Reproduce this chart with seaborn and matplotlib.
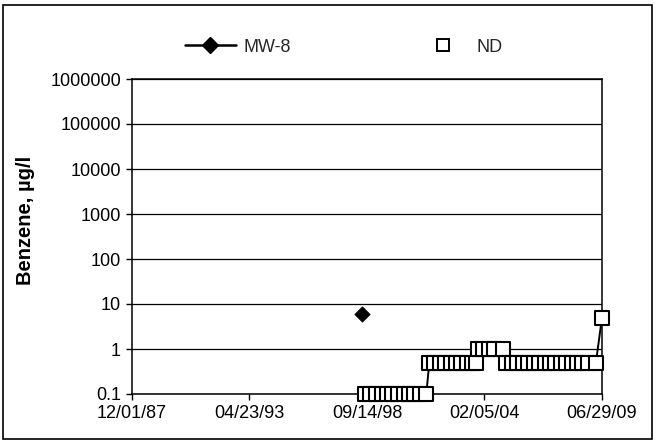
import matplotlib
matplotlib.use("Agg")
import matplotlib.pyplot as plt
import matplotlib.dates as mdates
from matplotlib.lines import Line2D
from matplotlib.patches import Rectangle
from matplotlib.ticker import FixedLocator, FixedFormatter
import pandas as pd
import seaborn as sns

# ---- data ----
detect_dates = ["1998-06-30"]
detect_values = [6.0]

nd_dates = [
    "1998-08-05", "1998-11-10", "1999-02-15", "1999-05-20", "1999-08-18", "1999-11-16",
    "2000-02-22", "2000-05-24", "2000-08-23", "2000-11-15", "2001-02-21", "2001-06-05",
    "2001-07-25", "2001-10-17", "2002-01-16", "2002-04-17", "2002-07-17", "2002-10-16",
    "2003-01-15", "2003-04-16", "2003-07-16", "2003-09-20",
    "2003-10-23", "2004-01-14", "2004-04-14", "2004-07-14", "2004-12-15",
    "2005-02-03", "2005-05-11", "2005-08-10", "2005-11-09", "2006-02-08", "2006-05-10",
    "2006-08-09", "2006-11-08", "2007-02-07", "2007-05-09", "2007-08-08", "2007-11-07",
    "2008-02-06", "2008-05-07", "2008-08-06", "2008-11-05", "2009-03-19",
    "2009-06-29",
]
nd_values = [
    0.1, 0.1, 0.1, 0.1, 0.1, 0.1, 0.1, 0.1, 0.1, 0.1, 0.1, 0.1,
    0.5, 0.5, 0.5, 0.5, 0.5, 0.5, 0.5, 0.5, 0.5, 0.5,
    1.0, 1.0, 1.0, 1.0, 1.0,
    0.5, 0.5, 0.5, 0.5, 0.5, 0.5, 0.5, 0.5, 0.5, 0.5, 0.5, 0.5,
    0.5, 0.5, 0.5, 0.5, 0.5,
    5.0,
]

x_tick_dates = ["1987-12-01", "1993-04-23", "1998-09-14", "2004-02-05", "2009-06-29"]
x_tick_labels = ["12/01/87", "04/23/93", "09/14/98", "02/05/04", "06/29/09"]
y_tick_values = [0.1, 1, 10, 100, 1000, 10000, 100000, 1000000]
y_tick_labels = ["0.1", "1", "10", "100", "1000", "10000", "100000", "1000000"]

series_names = ["MW-8", "ND"]
y_label = "Benzene, µg/l"

# ---- frames ----
df_nd = pd.DataFrame({"date": pd.to_datetime(nd_dates), "value": nd_values})
df_det = pd.DataFrame({"date": pd.to_datetime(detect_dates), "value": detect_values})

sns.set_theme(style="white")
plt.rcParams["font.family"] = ["Liberation Sans", "DejaVu Sans"]

fig = plt.figure(figsize=(6.6, 4.42), dpi=100)
ax = fig.add_axes([132 / 660, 1 - 394 / 442, (602 - 132) / 660, (394 - 79) / 442])
ax.set_yscale("log")

sns.lineplot(data=df_nd, x="date", y="value", ax=ax, color="black", linewidth=1.4,
             estimator=None, zorder=3)
sns.scatterplot(data=df_nd, x="date", y="value", ax=ax, marker="s", s=95,
                facecolor="white", edgecolor="black", linewidth=1.5, zorder=4,
                clip_on=False)
sns.scatterplot(data=df_det, x="date", y="value", ax=ax, marker="D", s=60,
                color="black", edgecolor="black", zorder=5, clip_on=False)

# axes
ax.set_ylim(0.1, 1000000)
ax.yaxis.set_major_locator(FixedLocator(y_tick_values))
ax.yaxis.set_major_formatter(FixedFormatter(y_tick_labels))
ax.yaxis.set_minor_locator(FixedLocator([]))

xt = [mdates.date2num(pd.Timestamp(d)) for d in x_tick_dates]
ax.set_xlim(xt[0], xt[-1])
ax.xaxis.set_major_locator(FixedLocator(xt))
ax.xaxis.set_major_formatter(FixedFormatter(x_tick_labels))

ax.grid(True, axis="y", color="black", linewidth=0.9)
ax.grid(False, axis="x")
for s in ax.spines.values():
    s.set_color("black")
    s.set_linewidth(1.1)
    s.set_visible(True)

ax.tick_params(axis="both", which="major", direction="out", length=4, width=1,
               color="black", labelsize=13, labelcolor="black", pad=4,
               left=True, bottom=True)
ax.set_xlabel("")
ax.set_ylabel("")
fig.text(26 / 660, 1 - 220 / 442, y_label, rotation=90, ha="center", va="center",
         fontsize=14.5, fontweight="bold", color="black")

# legend
handles = [
    Line2D([0], [0], color="black", linewidth=1.8, marker="D", markersize=8,
           markerfacecolor="black", markeredgecolor="black"),
    Line2D([0], [0], linestyle="none", marker="s", markersize=8,
           markerfacecolor="white", markeredgecolor="black", markeredgewidth=1.4),
]
fig.legend(handles, series_names, loc="center left", bbox_to_anchor=(185 / 660, 1 - 47 / 442),
           ncol=2, frameon=False, fontsize=13, handlelength=2.8, handletextpad=0.45,
           columnspacing=7.0, borderpad=0, borderaxespad=0)

# outer frame
fig.patches.append(Rectangle((3 / 660, 3 / 442), 649 / 660, 434 / 442, transform=fig.transFigure,
                             fill=False, edgecolor="black", linewidth=1.2))

fig.savefig("out.png", dpi=100)
